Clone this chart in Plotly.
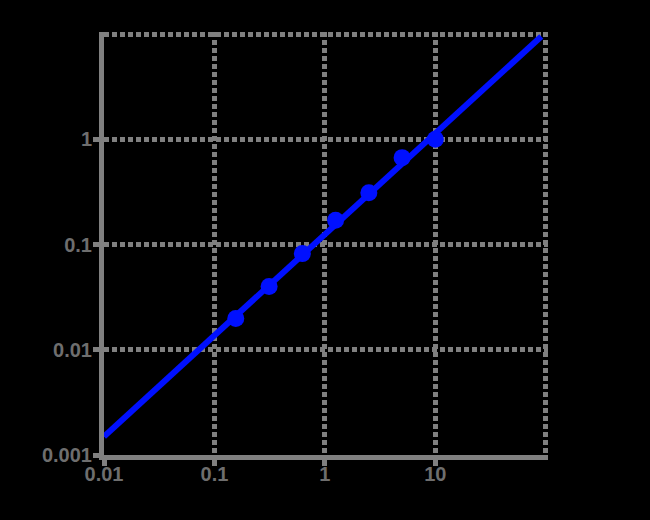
import plotly.graph_objects as go

# measured points
conc = [0.156, 0.3125, 0.625, 1.25, 2.5, 5, 10]
od = [0.0198, 0.040, 0.082, 0.17, 0.31, 0.67, 1.0]
# fit line endpoints
fit_x = [0.01, 91]
fit_y = [0.0015, 9.5]

x_tickvals = [0.01, 0.1, 1, 10]
x_ticktext = ["0.01", "0.1", "1", "10"]
x_edge_grid = [100]
y_tickvals = [0.001, 0.01, 0.1, 1]
y_ticktext = ["0.001", "0.01", "0.1", "1"]
y_edge_grid = [10]

blue = "#0010ff"
gray = "#808080"
label_gray = "#6e6e6e"

fig = go.Figure()
fig.add_trace(go.Scatter(x=fit_x, y=fit_y, mode="lines",
                         line=dict(color=blue, width=6), showlegend=False))
fig.add_trace(go.Scatter(x=conc, y=od, mode="markers",
                         marker=dict(color=blue, size=17), showlegend=False))

tickfont = dict(family="Liberation Sans", size=20, color=label_gray, weight="bold")
fig.update_layout(
    width=650, height=520,
    paper_bgcolor="black", plot_bgcolor="black",
    margin=dict(l=104, r=102, t=32, b=65),
)
axis_common = dict(
    type="log",
    showgrid=True, gridcolor=gray, gridwidth=5, griddash="5px,3px",
    showline=True, linecolor=gray, linewidth=5,
    ticks="outside", ticklen=6, tickwidth=5, tickcolor=gray,
    tickfont=tickfont, zeroline=False,
)
fig.update_xaxes(range=[-2, 2.02], tickvals=x_tickvals, ticktext=x_ticktext,
                 ticklabelstandoff=-9,
                 minor=dict(tickvals=x_edge_grid, showgrid=True, gridcolor=gray,
                            gridwidth=5, griddash="5px,3px", ticks=""),
                 **axis_common)
fig.update_yaxes(range=[-3, 1.02], tickvals=y_tickvals, ticktext=y_ticktext,
                 ticklabelstandoff=-3,
                 minor=dict(tickvals=y_edge_grid, showgrid=True, gridcolor=gray,
                            gridwidth=5, griddash="5px,3px", ticks=""),
                 **axis_common)

fig.write_html(
    "out.html",
    config={"displayModeBar": False},
    post_script="document.body.style.margin='0';document.body.style.background='black';",
)
